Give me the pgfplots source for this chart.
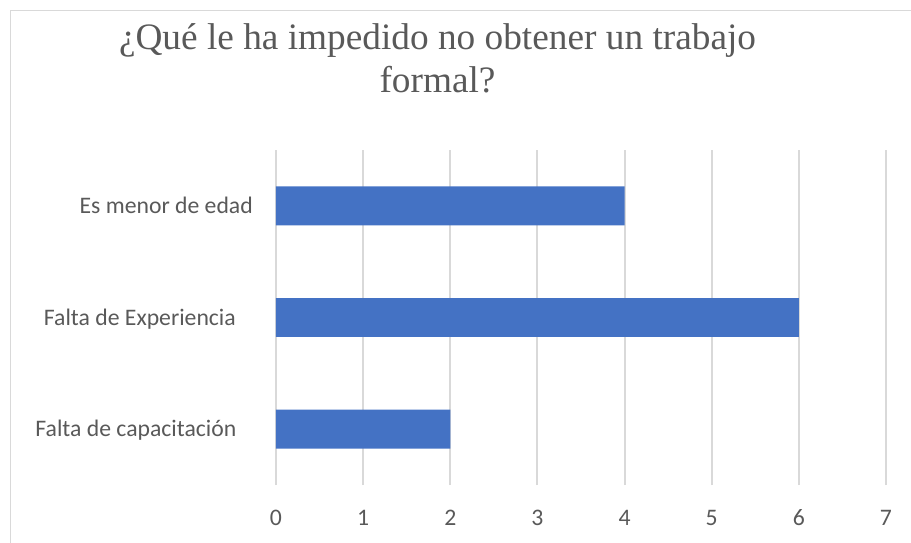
\documentclass[border=0pt]{standalone}
\usepackage{pgfplots}
\pgfplotsset{compat=1.18}
\usepackage{fontspec}
\setmainfont{Carlito}
\newfontfamily\titlefont{Liberation Serif}
\definecolor{barblue}{HTML}{4472C4}
\definecolor{gridgray}{HTML}{D9D9D9}
\definecolor{txtgray}{HTML}{595959}
\begin{document}
\begin{tikzpicture}[x=1pt,y=1pt]
\path[use as bounding box] (0,0) rectangle (911,-542);
\draw[gridgray, line width=1.5pt] (10.5,-545) -- (10.5,-10.5) -- (915,-10.5);
\node[anchor=base, text=txtgray, inner sep=0pt, font=\titlefont\fontsize{37.3}{43}\selectfont] at (437.5,-49) {¿Qué le ha impedido no obtener un trabajo};
\node[anchor=base, text=txtgray, inner sep=0pt, font=\titlefont\fontsize{37.3}{43}\selectfont] at (437.5,-92.3) {formal?};
\begin{axis}[
  at={(276pt,-485pt)}, anchor=south west,
  scale only axis, width=610pt, height=335pt,
  xmin=0, xmax=7, ymin=-0.5, ymax=2.5,
  xtick={0,1,2,3,4,5,6,7},
  ytick={0,1,2},
  yticklabels={{Falta de capacitación\kern16.5pt\null}, {Falta de Experiencia\kern17pt\null}, {Es menor de edad}},
  xmajorgrids, major grid style={gridgray, line width=2pt},
  axis line style={draw=none},
  major tick length=0pt,
  tick label style={text=txtgray, font=\fontsize{23.7}{28}\selectfont, inner sep=0pt},
  xticklabel style={anchor=base, yshift=-40pt},
  yticklabel style={anchor=base east, xshift=-23pt, yshift=-7.6pt},
  /pgf/number format/assume math mode=true,
  xbar, bar width=0.349,
]
\addplot[fill=barblue, draw=none] coordinates {(2,0) (6,1) (4,2)};
\end{axis}
\end{tikzpicture}
\end{document}
